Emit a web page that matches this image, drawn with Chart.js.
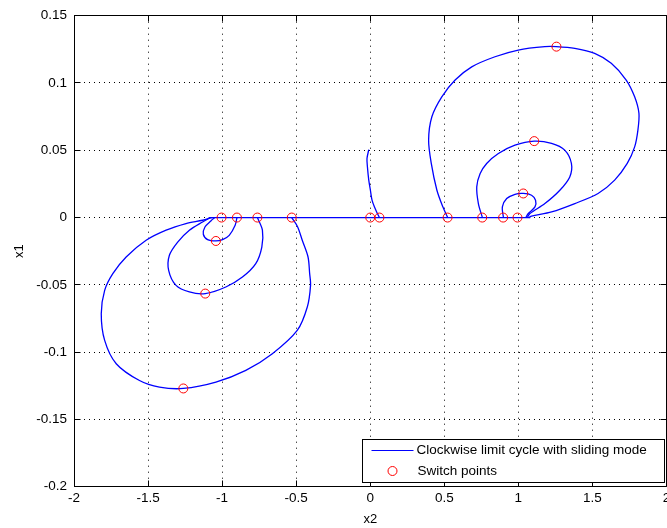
<!DOCTYPE html>
<html>
<head>
<meta charset="utf-8">
<script src="https://cdn.jsdelivr.net/npm/chart.js@4.4.1/dist/chart.umd.min.js"></script>
<style>
html, body { margin: 0; padding: 0; background: #fff; overflow: hidden; }
#wrap { width: 667px; height: 528px; overflow: hidden; }
</style>
</head>
<body>
<div id="wrap"><canvas id="chart" width="672" height="528"></canvas></div>
<script>
// --- DATA (x2, x1) pairs ---
const xTicks = [-2, -1.5, -1, -0.5, 0, 0.5, 1, 1.5, 2];
const yTicks = [-0.2, -0.15, -0.1, -0.05, 0, 0.05, 0.1, 0.15];

const startCurve = [[-0.010, 0.0504], [-0.022, 0.0439], [-0.019, 0.0376], [-0.010, 0.0278], [0.001, 0.0203],
    [0.012, 0.0129], [0.030, 0.0074], [0.048, 0.003], [0.062, 0]];

const slidingLine = [[-1.09, 0], [1.08, 0]];

const upperBig = [[0.523, 0], [0.49, 0.008], [0.45, 0.0203], [0.412, 0.0402], [0.394, 0.0575], [0.416, 0.0749],
    [0.483, 0.0897], [0.573, 0.1022], [0.685, 0.112], [0.842, 0.1195], [0.999, 0.1245], [1.179, 0.127],
    [1.257, 0.127], [1.381, 0.1257], [1.515, 0.122], [1.627, 0.1146], [1.728, 0.1022], [1.785, 0.0897],
    [1.814, 0.0774], [1.807, 0.065], [1.785, 0.0525], [1.735, 0.0402], [1.650, 0.0278], [1.538, 0.0179],
    [1.381, 0.0104], [1.224, 0.0042], [1.089, 0.001], [1.07, 0]];

const upperMid = [[0.757, 0], [0.730, 0.0104], [0.719, 0.0228], [0.742, 0.0327], [0.786, 0.0402], [0.865, 0.0476],
    [0.977, 0.0538], [1.107, 0.0568], [1.224, 0.0551], [1.313, 0.0501], [1.358, 0.0402], [1.347, 0.0302],
    [1.280, 0.0203], [1.179, 0.0104], [1.078, 0.003], [1.06, 0]];

const upperSmall = [[0.899, 0], [0.892, 0.0079], [0.921, 0.0141], [0.977, 0.0173], [1.033, 0.0179], [1.089, 0.0166],
    [1.116, 0.0129], [1.112, 0.0079], [1.067, 0.003], [1.05, 0]];

const lowerBig = [[-0.530, 0], [-0.49, -0.007], [-0.459, -0.0169], [-0.42, -0.0293], [-0.409, -0.0417],
    [-0.403, -0.0504], [-0.425, -0.0665], [-0.493, -0.0839], [-0.661, -0.1012], [-0.840, -0.1136],
    [-1.042, -0.1223], [-1.262, -0.127], [-1.423, -0.126], [-1.558, -0.1211], [-1.715, -0.1086],
    [-1.793, -0.0913], [-1.816, -0.0714], [-1.793, -0.0541], [-1.738, -0.0417], [-1.648, -0.0293],
    [-1.513, -0.0169], [-1.378, -0.0094], [-1.244, -0.0045], [-1.132, -0.002], [-1.07, 0]];

const lowerMid = [[-0.762, 0], [-0.728, -0.0094], [-0.732, -0.0219], [-0.773, -0.0342], [-0.863, -0.0442],
    [-0.975, -0.0516], [-1.114, -0.0565], [-1.221, -0.0553], [-1.311, -0.0504], [-1.361, -0.0392],
    [-1.356, -0.028], [-1.300, -0.0182], [-1.221, -0.0094], [-1.132, -0.0033], [-1.08, 0]];

const lowerSmall = [[-0.900, 0], [-0.912, -0.0057], [-0.952, -0.0132], [-0.997, -0.0164], [-1.042, -0.0174],
    [-1.098, -0.0164], [-1.127, -0.0124], [-1.116, -0.007], [-1.076, -0.0025], [-1.05, 0]];

const switchX2 = [1.257, 1.107, 1.033, 0.994, 0.897, 0.756, 0.522, 0.062, 0.0, -0.53, -0.762, -0.9, -1.004, -1.042, -1.114, -1.262];
const switchX1 = [0.127, 0.0568, 0.0179, 0, 0, 0, 0, 0, 0, 0, 0, 0, 0, -0.0174, -0.0565, -0.127];

const lineLabel = 'Clockwise limit cycle with sliding mode';
const pointLabel = 'Switch points';

const FONT = '"Liberation Sans", Arial, Helvetica, sans-serif';
Chart.defaults.color = '#000';
Chart.defaults.font.family = FONT;

const toPts = arr => arr.map(p => ({ x: p[0], y: p[1] }));
const curves = [startCurve, slidingLine, upperBig, upperMid, upperSmall, lowerBig, lowerMid, lowerSmall];

const datasets = curves.map((c, i) => ({
    label: i === 0 ? lineLabel : '',
    data: toPts(c),
    showLine: true,
    borderColor: '#0000ff',
    borderWidth: 1.3,
    pointRadius: 0,
    tension: 0.3,
    order: 2
}));
datasets.push({
    label: pointLabel,
    data: switchX2.map((v, i) => ({ x: v, y: switchX1[i] })),
    showLine: false,
    pointRadius: 4.5,
    pointBorderWidth: 1,
    pointBorderColor: '#ff0000',
    pointBackgroundColor: 'rgba(0,0,0,0)',
    order: 1
});

// box around the axes with inward tick marks, like MATLAB
const frame = {
    id: 'frame',
    afterDatasetsDraw(chart) {
        const { ctx, chartArea: a, scales: { x, y } } = chart;
        const L = Math.floor(a.left) + 0.5, R = Math.floor(a.right) + 0.5;
        const T = Math.floor(a.top) + 0.5, B = Math.floor(a.bottom) + 0.5;
        const tl = 6;
        ctx.save();
        ctx.strokeStyle = '#000';
        ctx.lineWidth = 1;
        ctx.beginPath();
        ctx.rect(L, T, R - L, B - T);
        x.ticks.forEach(t => {
            const px = Math.floor(x.getPixelForValue(t.value)) + 0.5;
            ctx.moveTo(px, B); ctx.lineTo(px, B - tl);
            ctx.moveTo(px, T); ctx.lineTo(px, T + tl);
        });
        y.ticks.forEach(t => {
            const py = Math.floor(y.getPixelForValue(t.value)) + 0.5;
            ctx.moveTo(L, py); ctx.lineTo(L + tl, py);
            ctx.moveTo(R, py); ctx.lineTo(R - tl, py);
        });
        ctx.stroke();
        ctx.restore();
    }
};

// legend box in the lower right corner of the axes
const boxLegend = {
    id: 'boxLegend',
    afterDraw(chart) {
        const { ctx, chartArea: a } = chart;
        const w = 302, h = 43;
        const left = Math.floor(a.right - 2 - w) + 0.5, top = Math.floor(a.bottom - 4 - h) + 0.5;
        ctx.save();
        ctx.fillStyle = '#fff';
        ctx.fillRect(left, top, w, h);
        ctx.strokeStyle = '#000';
        ctx.lineWidth = 1;
        ctx.strokeRect(left, top, w, h);
        ctx.strokeStyle = '#0000ff';
        ctx.beginPath();
        ctx.moveTo(left + 9, top + 11);
        ctx.lineTo(left + 51, top + 11);
        ctx.stroke();
        ctx.strokeStyle = '#ff0000';
        ctx.beginPath();
        ctx.arc(left + 30, top + 31.5, 4.5, 0, Math.PI * 2);
        ctx.stroke();
        ctx.fillStyle = '#000';
        ctx.font = '13.5px ' + FONT;
        ctx.textBaseline = 'middle';
        ctx.textAlign = 'left';
        ctx.fillText(chart.data.datasets[0].label, left + 54, top + 11);
        ctx.fillText(chart.data.datasets[datasets.length - 1].label, left + 55, top + 32);
        ctx.restore();
    }
};

new Chart(document.getElementById('chart'), {
    type: 'scatter',
    data: { datasets },
    options: {
        responsive: false,
        animation: false,
        devicePixelRatio: 1,
        layout: { padding: { left: 0, top: 15.7, right: 3.3, bottom: 0 } },
        plugins: { legend: { display: false }, tooltip: { enabled: false } },
        scales: {
            x: {
                type: 'linear',
                min: -2, max: 2,
                afterBuildTicks: s => { s.ticks = xTicks.map(v => ({ value: v })); },
                afterFit: s => { s.height = 41.3; s.paddingLeft = 0; s.paddingRight = 0; },
                grid: { color: '#000', lineWidth: 1, drawTicks: false },
                border: { display: false, dash: [1, 5] },
                ticks: { font: { size: 13.5 }, padding: 3, maxRotation: 0, callback: v => String(v) },
                title: { display: true, text: 'x2', font: { size: 13 }, padding: { top: 0, bottom: 1 } }
            },
            y: {
                type: 'linear',
                min: -0.2, max: 0.15,
                afterBuildTicks: s => { s.ticks = yTicks.map(v => ({ value: v })); },
                afterFit: s => { s.width = 74; s.paddingTop = 0; s.paddingBottom = 0; },
                grid: { color: '#000', lineWidth: 1, drawTicks: false },
                border: { display: false, dash: [1, 4] },
                ticks: { font: { size: 13.5 }, padding: 7, callback: v => String(v) },
                title: { display: true, text: 'x1', font: { size: 13 }, padding: { top: 12, bottom: 0 } }
            }
        }
    },
    plugins: [frame, boxLegend]
});
</script>
</body>
</html>
